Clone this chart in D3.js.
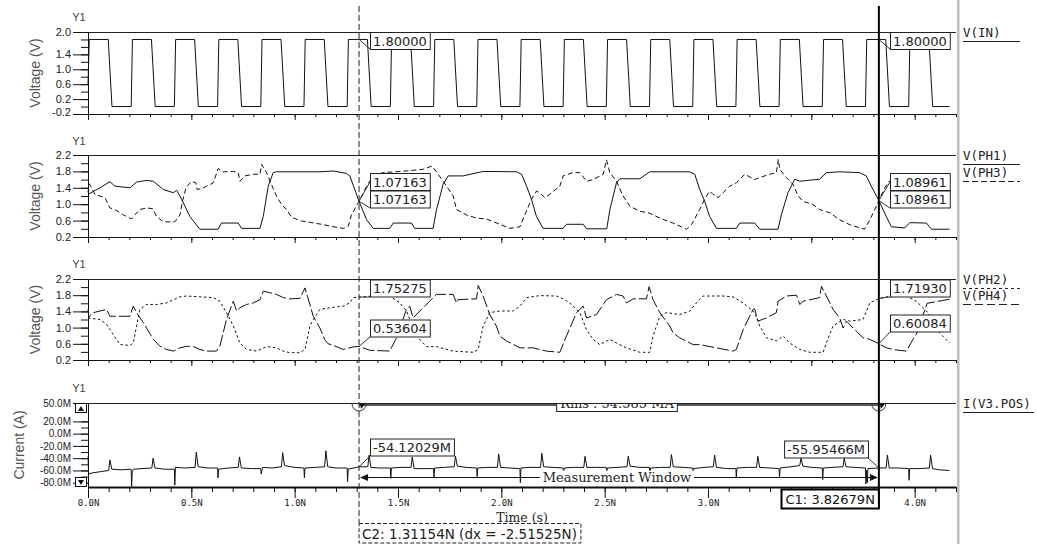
<!DOCTYPE html>
<html><head><meta charset="utf-8">
<script src="https://cdn.jsdelivr.net/npm/d3@7"></script>
<style>
html,body{margin:0;padding:0;background:#fff;}
svg{display:block;}
</style></head><body>
<svg id="c" width="1037" height="544"></svg>
<script>
// ---------------- DATA ----------------
const xDomain = [0, 4.2];
const xMajorTicks = [0, 0.5, 1.0, 1.5, 2.0, 2.5, 3.0, 3.5, 4.0];
const xTickLabels = ["0.0N","0.5N","1.0N","1.5N","2.0N","2.5N","3.0N","3.5N","4.0N"];

const cursorC2 = 1.31154;
const cursorC1 = 3.82679;

// Panel 1: V(IN)
const p1TickVals = [-0.2,0,0.2,0.4,0.6,0.8,1.0,1.2,1.4,1.6,1.8,2.0];
const p1LabelVals = [-0.2,0.2,0.6,1.0,1.4,2.0];
const p1Labels = ["-0.2","0.2","0.6","1.0","1.4","2.0"];
const vIn = [
[0,0.6],[0.006,1.8],[0.098,1.8],[0.116,0],
[0.209,0],[0.215,1.8],[0.307,1.8],[0.325,0],
[0.418,0],[0.424,1.8],[0.516,1.8],[0.534,0],
[0.627,0],[0.633,1.8],[0.725,1.8],[0.743,0],
[0.836,0],[0.842,1.8],[0.934,1.8],[0.952,0],
[1.045,0],[1.051,1.8],[1.143,1.8],[1.161,0],
[1.254,0],[1.260,1.8],[1.352,1.8],[1.370,0],
[1.463,0],[1.469,1.8],[1.561,1.8],[1.579,0],
[1.672,0],[1.678,1.8],[1.770,1.8],[1.788,0],
[1.881,0],[1.887,1.8],[1.979,1.8],[1.997,0],
[2.090,0],[2.096,1.8],[2.188,1.8],[2.206,0],
[2.299,0],[2.305,1.8],[2.397,1.8],[2.415,0],
[2.508,0],[2.514,1.8],[2.606,1.8],[2.624,0],
[2.717,0],[2.723,1.8],[2.815,1.8],[2.833,0],
[2.926,0],[2.932,1.8],[3.024,1.8],[3.042,0],
[3.135,0],[3.141,1.8],[3.233,1.8],[3.251,0],
[3.344,0],[3.350,1.8],[3.442,1.8],[3.460,0],
[3.553,0],[3.559,1.8],[3.651,1.8],[3.669,0],
[3.762,0],[3.768,1.8],[3.860,1.8],[3.878,0],
[3.971,0],[3.977,1.8],[4.069,1.8],[4.087,0],
[4.169,0]
];

// Panels 2 & 3 ticks
const p23TickVals = [0.2,0.4,0.6,0.8,1.0,1.2,1.4,1.6,1.8,2.0,2.2];
const p23LabelVals = [0.2,0.6,1.0,1.4,1.8,2.2];
const p23Labels = ["0.2","0.6","1.0","1.4","1.8","2.2"];

const vPH1 = [
[0.000,1.24],[0.058,1.40],[0.106,1.55],[0.130,1.44],[0.203,1.40],[0.235,1.54],[0.284,1.58],[0.316,1.56],
[0.364,1.36],[0.413,1.28],[0.429,1.34],[0.453,1.12],[0.493,0.70],[0.541,0.39],[0.630,0.39],[0.646,0.54],
[0.727,0.54],[0.743,0.41],[0.832,0.41],[0.848,0.70],[0.872,1.44],[0.896,1.77],[0.912,1.79],[1.122,1.79],
[1.187,1.81],[1.251,1.75],[1.267,1.69],[1.3115,1.07163],[1.348,0.62],[1.380,0.41],[1.460,0.41],[1.477,0.54],
[1.565,0.54],[1.581,0.41],[1.670,0.41],[1.686,0.86],[1.718,1.48],[1.743,1.69],[1.815,1.69],[1.912,1.80],
[2.074,1.79],[2.098,1.73],[2.122,1.44],[2.146,1.12],[2.170,0.70],[2.202,0.41],[2.299,0.41],[2.315,0.51],
[2.396,0.51],[2.412,0.40],[2.510,0.40],[2.525,0.86],[2.557,1.52],[2.573,1.62],[2.670,1.62],[2.718,1.79],
[2.911,1.79],[2.936,1.73],[2.960,1.36],[2.984,1.07],[3.008,0.70],[3.041,0.41],[3.137,0.41],[3.154,0.54],
[3.226,0.54],[3.250,0.39],[3.339,0.39],[3.355,0.74],[3.387,1.28],[3.420,1.61],[3.444,1.56],[3.540,1.61],
[3.573,1.77],[3.637,1.79],[3.734,1.77],[3.766,1.69],[3.790,1.44],[3.8268,1.08961],[3.855,0.78],[3.887,0.45],
[3.952,0.42],[3.976,0.55],[4.057,0.54],[4.081,0.39],[4.169,0.39]
];
const vPH3 = [
[0.000,1.29],[0.006,1.50],[0.034,1.24],[0.082,1.16],[0.106,0.91],[0.130,0.87],[0.171,0.74],[0.211,0.64],
[0.227,0.74],[0.251,0.87],[0.284,0.91],[0.313,0.89],[0.332,0.70],[0.364,0.57],[0.420,0.57],[0.445,0.74],
[0.457,1.07],[0.474,1.40],[0.501,1.56],[0.522,1.52],[0.528,1.36],[0.550,1.38],[0.574,1.44],[0.606,1.52],
[0.630,1.87],[0.654,1.79],[0.703,1.80],[0.727,1.77],[0.735,1.56],[0.759,1.69],[0.800,1.73],[0.832,1.73],
[0.840,1.97],[0.864,1.77],[0.888,1.48],[0.912,1.20],[0.937,0.99],[0.961,0.87],[0.985,0.68],[1.033,0.59],
[1.082,0.55],[1.130,0.51],[1.178,0.46],[1.235,0.41],[1.259,0.46],[1.275,0.74],[1.3115,1.07163],[1.348,1.44],
[1.380,1.69],[1.428,1.77],[1.540,1.81],[1.620,1.85],[1.665,1.93],[1.700,1.69],[1.735,1.44],[1.767,1.20],
[1.783,0.87],[1.831,0.74],[1.880,0.66],[1.928,0.64],[1.993,0.51],[2.042,0.41],[2.090,0.45],[2.114,0.74],
[2.146,1.12],[2.170,1.32],[2.186,1.28],[2.210,1.16],[2.234,1.24],[2.283,1.44],[2.299,1.69],[2.347,1.77],
[2.380,1.77],[2.412,1.56],[2.444,1.60],[2.493,1.73],[2.509,2.08],[2.525,1.77],[2.557,1.56],[2.589,1.20],
[2.622,0.95],[2.670,0.83],[2.718,0.78],[2.767,0.66],[2.831,0.54],[2.896,0.39],[2.920,0.50],[2.960,0.87],
[2.984,1.12],[3.008,1.32],[3.024,1.24],[3.049,1.16],[3.105,1.44],[3.137,1.52],[3.178,1.73],[3.226,1.60],
[3.250,1.65],[3.299,1.73],[3.331,1.77],[3.340,2.09],[3.347,1.85],[3.379,1.65],[3.412,1.48],[3.436,1.20],
[3.460,1.07],[3.508,0.99],[3.540,0.87],[3.589,0.79],[3.637,0.62],[3.686,0.50],[3.758,0.39],[3.783,0.62],
[3.807,0.87],[3.8268,1.08961],[3.850,1.35],[3.875,1.55],[3.950,1.62],[4.050,1.66],[4.169,1.70]
];

const vPH2 = [
[0.000,1.24],[0.058,1.20],[0.090,1.08],[0.122,0.83],[0.155,0.58],[0.203,0.56],[0.219,0.62],[0.235,1.04],
[0.251,1.45],[0.284,1.57],[0.332,1.57],[0.380,1.61],[0.445,1.76],[0.477,1.78],[0.541,1.76],[0.606,1.74],
[0.638,1.65],[0.670,1.37],[0.703,1.04],[0.735,0.62],[0.767,0.46],[0.816,0.42],[0.864,0.53],[0.912,0.50],
[0.945,0.42],[0.977,0.38],[1.025,0.38],[1.050,0.46],[1.074,1.04],[1.090,1.20],[1.122,1.45],[1.170,1.49],
[1.235,1.53],[1.267,1.61],[1.283,1.74],[1.3115,1.75275],[1.380,1.78],[1.460,1.78],[1.509,1.61],[1.541,1.41],
[1.590,0.79],[1.638,0.53],[1.686,0.53],[1.767,0.42],[1.864,0.39],[1.888,0.46],[1.912,1.04],[1.944,1.37],
[1.993,1.41],[2.058,1.41],[2.090,1.53],[2.122,1.74],[2.186,1.79],[2.267,1.78],[2.299,1.71],[2.331,1.61],
[2.380,1.37],[2.412,0.95],[2.444,0.71],[2.476,0.58],[2.525,0.71],[2.557,0.62],[2.605,0.50],[2.670,0.39],
[2.718,0.39],[2.734,0.79],[2.767,1.28],[2.799,1.37],[2.863,1.32],[2.912,1.41],[2.944,1.61],[2.976,1.78],
[3.073,1.78],[3.121,1.76],[3.170,1.61],[3.226,1.37],[3.250,1.04],[3.283,0.75],[3.331,0.67],[3.363,0.79],
[3.395,0.62],[3.444,0.46],[3.492,0.39],[3.557,0.39],[3.573,0.62],[3.605,1.04],[3.654,1.20],[3.686,1.16],
[3.750,1.20],[3.783,1.61],[3.8268,1.7193],[3.863,1.76],[3.960,1.78],[4.008,1.65],[4.057,1.41],[4.073,1.28],
[4.120,0.87],[4.169,0.62]
];
const vPH4 = [
[0.000,1.45],[0.004,1.25],[0.010,1.30],[0.027,1.37],[0.058,1.41],[0.090,1.45],[0.106,1.28],[0.155,1.28],
[0.203,1.28],[0.219,1.53],[0.235,1.37],[0.268,1.12],[0.316,0.71],[0.348,0.54],[0.380,0.46],[0.413,0.42],
[0.445,0.50],[0.477,0.54],[0.510,0.53],[0.541,0.46],[0.574,0.42],[0.622,0.42],[0.638,0.54],[0.670,1.20],
[0.703,1.65],[0.719,1.41],[0.735,1.49],[0.767,1.57],[0.800,1.61],[0.832,1.69],[0.848,1.90],[0.880,1.86],
[0.912,1.82],[0.945,1.74],[0.977,1.71],[1.025,1.72],[1.050,1.98],[1.057,1.86],[1.090,1.28],[1.122,0.99],
[1.146,0.70],[1.162,0.60],[1.178,0.58],[1.235,0.46],[1.280,0.52],[1.3115,0.53604],[1.364,0.44],[1.460,0.42],
[1.493,0.75],[1.541,1.45],[1.557,1.53],[1.573,1.24],[1.606,1.41],[1.670,1.74],[1.686,1.82],[1.767,1.82],
[1.783,1.61],[1.791,1.69],[1.880,1.71],[1.888,2.04],[1.912,1.78],[1.944,1.32],[1.976,1.04],[1.993,0.79],
[2.025,0.67],[2.090,0.50],[2.154,0.50],[2.218,0.42],[2.283,0.39],[2.315,0.79],[2.364,1.37],[2.396,1.53],
[2.412,1.24],[2.460,1.32],[2.509,1.69],[2.557,1.82],[2.589,1.78],[2.605,1.61],[2.638,1.71],[2.702,1.71],
[2.715,2.01],[2.734,1.69],[2.767,1.37],[2.815,1.04],[2.831,0.87],[2.863,0.75],[2.928,0.58],[2.960,0.58],
[3.041,0.50],[3.121,0.42],[3.137,0.46],[3.170,0.95],[3.218,1.45],[3.226,1.46],[3.242,1.16],[3.283,1.24],
[3.331,1.37],[3.339,1.65],[3.379,1.78],[3.428,1.80],[3.444,1.57],[3.460,1.65],[3.540,1.74],[3.549,2.02],
[3.573,1.78],[3.605,1.45],[3.637,1.24],[3.654,0.99],[3.670,1.16],[3.702,0.99],[3.750,0.75],[3.783,0.71],
[3.8268,0.60084],[3.863,0.50],[3.895,0.46],[3.960,0.42],[3.992,0.71],[4.016,0.91],[4.040,1.30],[4.060,1.60],
[4.169,1.70]
];

// Panel 4: I(V3.POS) in mA
const p4TickVals = [-80,-70,-60,-50,-40,-30,-20,-10,0,10,20,50];
const p4LabelVals = [50,20,0,-20,-40,-60,-80];
const p4Labels = ["50.0M","20.0M","0.0M","-20.0M","-40.0M","-60.0M","-80.0M"];
const iV3 = [
[0.000,-37],[0.003,-66],[0.020,-64],[0.060,-62],[0.100,-60],[0.106,-43],[0.115,-58],[0.160,-59],[0.207,-58],
[0.209,-58],[0.211,-86],[0.214,-62],[0.220,-58],[0.260,-57],[0.309,-56],[0.315,-40],[0.324,-56],[0.370,-58],[0.416,-58],
[0.418,-58],[0.420,-84],[0.423,-55],[0.470,-56],[0.518,-55],[0.524,-30],[0.533,-54],[0.580,-56],[0.625,-56],
[0.627,-56],[0.629,-72],[0.632,-58],[0.680,-56],[0.727,-55],[0.733,-38],[0.742,-56],[0.790,-57],[0.834,-57],
[0.836,-57],[0.838,-66],[0.841,-60],[0.845,-55],[0.890,-56],[0.936,-54],[0.942,-31],[0.951,-52],[1.000,-55],[1.043,-56],
[1.045,-56],[1.047,-72],[1.050,-56],[1.100,-55],[1.145,-54],[1.151,-28],[1.160,-54],[1.200,-56],[1.252,-56],
[1.254,-56],[1.256,-78],[1.259,-58],[1.300,-55],[1.3115,-54.12],[1.354,-54],[1.360,-35],[1.369,-55],[1.410,-56],[1.461,-56],
[1.463,-56],[1.465,-73],[1.468,-56],[1.510,-55],[1.563,-55],[1.569,-38],[1.578,-57],[1.620,-57],[1.670,-57],
[1.672,-57],[1.674,-72],[1.677,-56],[1.720,-55],[1.772,-54],[1.778,-37],[1.787,-53],[1.830,-55],[1.879,-56],
[1.881,-56],[1.883,-70],[1.886,-56],[1.930,-55],[1.981,-55],[1.987,-33],[1.996,-55],[2.040,-56],[2.088,-57],
[2.090,-57],[2.092,-80],[2.095,-56],[2.140,-55],[2.190,-55],[2.196,-32],[2.205,-54],[2.250,-55],[2.297,-56],
[2.299,-56],[2.301,-68],[2.304,-56],[2.350,-55],[2.399,-55],[2.405,-37],[2.414,-55],[2.460,-55],[2.506,-55],
[2.508,-55],[2.510,-68],[2.513,-56],[2.560,-55],[2.608,-54],[2.614,-37],[2.623,-53],[2.670,-55],[2.715,-55],
[2.717,-55],[2.719,-68],[2.722,-56],[2.770,-55],[2.817,-55],[2.823,-34],[2.832,-54],[2.880,-55],[2.924,-56],
[2.926,-56],[2.928,-68],[2.931,-57],[2.980,-55],[3.026,-54],[3.032,-35],[3.041,-55],[3.090,-57],[3.133,-57],
[3.135,-57],[3.137,-72],[3.140,-56],[3.190,-55],[3.235,-55],[3.241,-37],[3.250,-55],[3.300,-56],[3.342,-57],
[3.344,-57],[3.346,-72],[3.349,-56],[3.400,-54],[3.444,-52],[3.450,-40],[3.459,-53],[3.500,-55],[3.551,-56],
[3.553,-56],[3.555,-75],[3.558,-56],[3.600,-55],[3.653,-54],[3.659,-40],[3.668,-54],[3.710,-55],[3.760,-56],
[3.762,-56],[3.764,-82],[3.767,-60],[3.771,-80],[3.774,-57],[3.8268,-55.95],[3.862,-56],[3.868,-35],[3.877,-56],[3.920,-56],[3.969,-57],
[3.971,-57],[3.973,-76],[3.976,-57],[4.020,-57],[4.071,-56],[4.077,-35],[4.086,-57],[4.120,-59],[4.169,-60]
];

const legendNames = ["V(IN)","V(PH1)","V(PH3)","V(PH2)","V(PH4)","I(V3.POS)"];
const markerTexts = {
  p1:["1.80000","1.80000"],
  p2:["1.07163","1.07163","1.08961","1.08961"],
  p3:["1.75275","0.53604","1.71930","0.60084"],
  p4:["-54.12029M","-55.95466M"]
};
const rmsText = "Rms : 54.585 MA";
const windowText = "Measurement Window";
const c1Text = "C1: 3.82679N";
const c2Text = "C2: 1.31154N (dx = -2.51525N)";

// ---------------- DRAW ----------------
const svg = d3.select("#c");
const SANS = "'Liberation Sans', Arial, sans-serif";
const DJ = "'DejaVu Sans', sans-serif";
const SERIF = "'DejaVu Serif', serif";
const MONO = "'DejaVu Sans Mono', monospace";

const x = d3.scaleLinear().domain(xDomain).range([88, 956]);
const xMinor = d3.range(0, 4.21, 0.1).map(v => +v.toFixed(2));

const panels = [
  {top:32, bottom:114, domain:[-0.2,2.0], minor:p1TickVals, major:p1LabelVals, labels:p1Labels,
   title:"Voltage (V)", titleX:35, y1Y:17, xMaj:6, xMin:3, fs:11,
   series:[{d:vIn, dash:null}]},
  {top:155, bottom:237, domain:[0.2,2.2], minor:p23TickVals, major:p23LabelVals, labels:p23Labels,
   title:"Voltage (V)", titleX:35, y1Y:141, xMaj:6, xMin:3, fs:11,
   series:[{d:vPH1, dash:null},{d:vPH3, dash:"5,3"}]},
  {top:279, bottom:360, domain:[0.2,2.2], minor:p23TickVals, major:p23LabelVals, labels:p23Labels,
   title:"Voltage (V)", titleX:35, y1Y:264, xMaj:6, xMin:3, fs:11,
   series:[{d:vPH2, dash:"2.5,2.5"},{d:vPH4, dash:"12,3"}]},
  {top:403, bottom:487, domain:[-87,50], minor:p4TickVals, major:p4LabelVals, labels:p4Labels,
   title:"Current (A)", titleX:19, y1Y:388, xMaj:11, xMin:5, fs:10,
   series:[{d:iV3, dash:null}]}
];

panels.forEach((p, pi) => {
  const y = d3.scaleLinear().domain(p.domain).range([p.bottom, p.top]);
  p.y = y;
  const g = svg.append("g");
  g.append("line").attr("x1",88).attr("x2",956).attr("y1",p.top+0.5).attr("y2",p.top+0.5)
    .attr("stroke","#222").attr("stroke-width",1);
  g.append("g").attr("transform","translate(88,0)")
    .call(d3.axisLeft(y).tickValues(p.minor).tickSize(7).tickSizeOuter(0).tickFormat(""))
    .call(s => s.selectAll("line,path").attr("stroke","#111"));
  const ya = g.append("g").attr("transform","translate(88,0)")
    .call(d3.axisLeft(y).tickValues(p.major).tickSize(15).tickPadding(2)
      .tickFormat((d,i)=>p.labels[i]));
  ya.select(".domain").remove();
  ya.selectAll("line").attr("stroke","#111");
  ya.selectAll("text").attr("font-family",SANS).attr("font-size",p.fs+"px").attr("fill","#222");
  if (pi===0) ya.selectAll("text").filter(d=>d===-0.2).attr("dy","0.1em");
  g.append("g").attr("transform",`translate(0,${p.bottom})`)
    .call(d3.axisBottom(x).tickValues(xMinor).tickSize(p.xMin).tickSizeOuter(0).tickFormat(""))
    .call(s => s.selectAll("line,path").attr("stroke","#111"))
    .call(s => { if (pi===3) s.select(".domain").attr("stroke-width",2); });
  const xa = g.append("g").attr("transform",`translate(0,${p.bottom})`)
    .call(d3.axisBottom(x).tickValues(xMajorTicks).tickSize(p.xMaj).tickPadding(2)
      .tickFormat((d,i)=> pi===3 ? xTickLabels[i] : ""));
  xa.select(".domain").remove();
  xa.selectAll("line").attr("stroke","#111");
  xa.selectAll("text").attr("font-family",MONO).attr("font-size","9px").attr("fill","#222");
  g.append("text").attr("transform",`translate(${p.titleX},${(p.top+p.bottom)/2}) rotate(-90)`)
    .attr("text-anchor","middle").attr("dominant-baseline","central")
    .attr("font-family",SANS).attr("font-size","14px").attr("fill","#555").text(p.title);
  g.append("text").attr("x",79).attr("y",p.y1Y).attr("text-anchor","middle").attr("dominant-baseline","central")
    .attr("font-family",SANS).attr("font-size","11px").attr("fill","#444").text("Y1");
  const line = d3.line().x(d=>x(d[0])).y(d=>y(d[1]));
  p.series.forEach(s => {
    g.append("path").datum(s.d).attr("d",line).attr("fill","none")
      .attr("stroke","#111").attr("stroke-width",1)
      .attr("stroke-dasharray", s.dash);
  });
});

// scroll buttons panel 4
const sb = svg.append("g");
[[403,"up"],[477,"down"]].forEach(([yy,dir]) => {
  sb.append("rect").attr("x",75.5).attr("y",yy+0.5).attr("width",11).attr("height",9)
    .attr("fill","#fff").attr("stroke","#111");
  const pts = dir==="up" ? [[78,411],[84,411],[81,406]] : [[78,480],[84,480],[81,485]];
  sb.append("polygon").attr("points",pts.map(p=>p.join(",")).join(" ")).attr("fill","#111");
});

// legend separator and legend
svg.append("rect").attr("x",957).attr("y",0).attr("width",2.5).attr("height",544).attr("fill","#bdbdbd");
const legend = [
  {t:legendNames[0], y:37, uy:41.5, dash:null, w:57},
  {t:legendNames[1], y:160, uy:164.5, dash:null, w:57},
  {t:legendNames[2], y:177, uy:181.5, dash:"6,3", w:57},
  {t:legendNames[3], y:284, uy:288.5, dash:"3,3", w:57},
  {t:legendNames[4], y:300, uy:304.5, dash:"8,4", w:57},
  {t:legendNames[5], y:408, uy:412.5, dash:null, w:71}
];
legend.forEach(l => {
  svg.append("text").attr("x",963).attr("y",l.y).attr("font-family",MONO).attr("font-size","12.5px")
    .attr("fill","#222").text(l.t);
  svg.append("line").attr("x1",963).attr("x2",963+l.w).attr("y1",l.uy).attr("y2",l.uy)
    .attr("stroke","#222").attr("stroke-dasharray",l.dash);
});

// panel-4 RMS bar and markers
const xc2 = x(cursorC2), xc1 = x(cursorC1);
svg.append("line").attr("x1",xc2).attr("x2",xc1).attr("y1",405).attr("y2",405)
  .attr("stroke","#222").attr("stroke-width",1.5);
[xc2, xc1].forEach(xc => {
  svg.append("path").attr("d",`M${xc-7},404 A7,7 0 0 0 ${xc+7},404`).attr("fill","none").attr("stroke","#333");
  svg.append("polygon").attr("points",`${xc+1},404 ${xc+6},404 ${xc+2},409`).attr("fill","#111");
});
svg.append("clipPath").attr("id","rmsclip").append("rect").attr("x",540).attr("y",404).attr("width",160).attr("height",20);
const rg = svg.append("g").attr("clip-path","url(#rmsclip)");
const rt = rg.append("text").attr("x",617).attr("y",408).attr("text-anchor","middle")
  .attr("font-family",SERIF).attr("font-size","13px").attr("fill","#222").text(rmsText);
const rw = rt.node().getComputedTextLength();
rg.insert("rect","text").attr("x",617-rw/2-3.5).attr("y",396.5).attr("width",rw+7).attr("height",15)
  .attr("fill","#fff").attr("stroke","#222");

// Measurement window arrow
const mwY = 477.5;
svg.append("line").attr("x1",xc2+2).attr("x2",xc1-2).attr("y1",mwY).attr("y2",mwY).attr("stroke","#111");
svg.append("polygon").attr("points",`${xc2+1},${mwY} ${xc2+9},${mwY-3.5} ${xc2+9},${mwY+3.5}`).attr("fill","#111");
svg.append("polygon").attr("points",`${xc1-1},${mwY} ${xc1-9},${mwY-3.5} ${xc1-9},${mwY+3.5}`).attr("fill","#111");
const mwg = svg.append("g");
const mwt = mwg.append("text").attr("x",617).attr("y",mwY).attr("text-anchor","middle").attr("dominant-baseline","central")
  .attr("font-family",SERIF).attr("font-size","13px").attr("fill","#222").text(windowText);
const mww = mwt.node().getComputedTextLength();
mwg.insert("rect","text").attr("x",617-mww/2-3).attr("y",mwY-7).attr("width",mww+6).attr("height",14).attr("fill","#fff");

// cursors
svg.append("line").attr("x1",xc2).attr("x2",xc2).attr("y1",6).attr("y2",523)
  .attr("stroke","#222").attr("stroke-dasharray","6,3");
svg.append("line").attr("x1",xc1).attr("x2",xc1).attr("y1",6).attr("y2",508)
  .attr("stroke","#000").attr("stroke-width",2);

// marker boxes
function box(xAnchor, yc, txt, anchorRight) {
  const g = svg.append("g");
  const t = g.append("text").attr("y",yc).attr("dominant-baseline","central")
    .attr("font-family",DJ).attr("font-size","13px").attr("fill","#222").text(txt);
  const w = t.node().getComputedTextLength() + 6;
  const x0 = anchorRight ? xAnchor - w : xAnchor;
  t.attr("x", x0 + 3);
  g.insert("rect","text").attr("x",x0+0.5).attr("y",yc-8.5).attr("width",w).attr("height",17)
    .attr("fill","#fff").attr("stroke","#222");
}
function leader(x1,y1,x2,y2){
  svg.append("line").attr("x1",x1).attr("y1",y1).attr("x2",x2).attr("y2",y2).attr("stroke","#333");
}
const y1s = panels[0].y, y2s = panels[1].y, y3s = panels[2].y, y4s = panels[3].y;
leader(xc2, y1s(1.8), 370, 49); box(370, 41, markerTexts.p1[0]);
leader(xc1, y1s(1.8), 890, 49); box(890, 41, markerTexts.p1[1]);
leader(xc2, y2s(1.07163), 370, 182); leader(xc2, y2s(1.07163), 370, 208);
box(370, 182, markerTexts.p2[0]); box(370, 199.5, markerTexts.p2[1]);
leader(xc1, y2s(1.08961), 890, 182); leader(xc1, y2s(1.08961), 890, 208);
box(890, 182, markerTexts.p2[2]); box(890, 199.5, markerTexts.p2[3]);
leader(xc2, y3s(1.75275), 370, 297); box(370, 288.5, markerTexts.p3[0]);
leader(xc2, y3s(0.53604), 370, 337); box(370, 328.5, markerTexts.p3[1]);
leader(xc1, y3s(1.7193), 890, 297); box(890, 288.5, markerTexts.p3[2]);
leader(xc1, y3s(0.60084), 890, 332); box(890, 323.5, markerTexts.p3[3]);
leader(xc2, y4s(-54.12029), 370, 456); box(370, 447.5, markerTexts.p4[0]);
leader(xc1, y4s(-55.95466), 868, 458); box(868, 449.5, markerTexts.p4[1], true);

// C1 box
const c1g = svg.append("g");
const c1t = c1g.append("text").attr("y",499).attr("dominant-baseline","central")
  .attr("font-family",DJ).attr("font-size","13px").attr("fill","#111").text(c1Text);
const c1w = c1t.node().getComputedTextLength()+8;
c1t.attr("x", xc1 - c1w + 4);
c1g.insert("rect","text").attr("x",xc1-c1w).attr("y",489.5).attr("width",c1w).attr("height",19)
  .attr("fill","#fff").attr("stroke","#000").attr("stroke-width",2);

// Time label
svg.append("text").attr("x",522).attr("y",521.5).attr("text-anchor","middle")
  .attr("font-family",SERIF).attr("font-size","12.5px").attr("fill","#222").text("Time (s)");

// C2 box
const c2g = svg.append("g");
const c2t = c2g.append("text").attr("x",xc2+3).attr("y",533.5).attr("dominant-baseline","central")
  .attr("font-family",DJ).attr("font-size","13.5px").attr("fill","#222").text(c2Text);
const c2w = c2t.node().getComputedTextLength()+7;
c2g.insert("rect","text").attr("x",xc2).attr("y",523.5).attr("width",c2w).attr("height",19.5)
  .attr("fill","none").attr("stroke","#222").attr("stroke-dasharray","4,2");
</script>
</body></html>
